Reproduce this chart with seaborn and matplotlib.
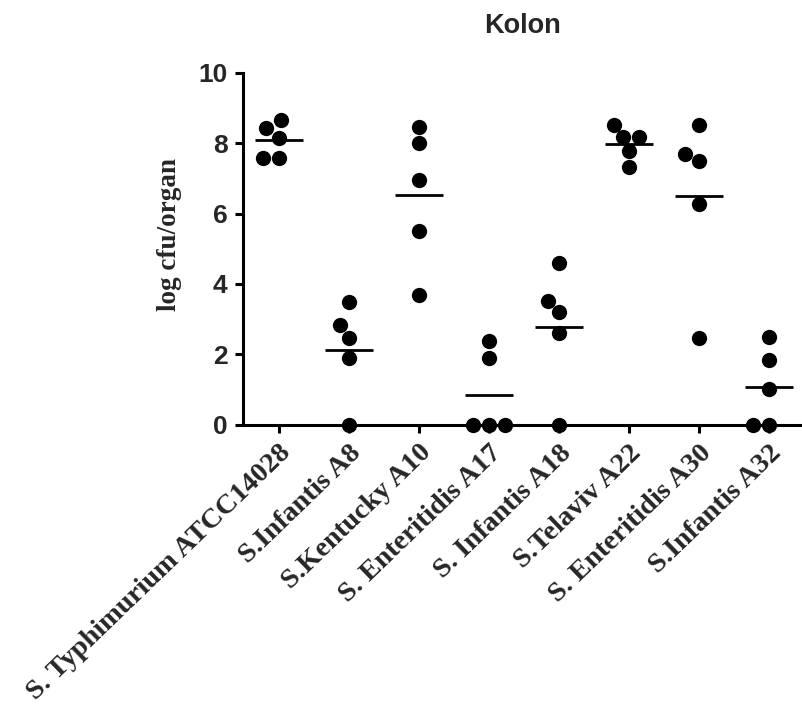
import numpy as np
import pandas as pd
import matplotlib
matplotlib.use('Agg')
import matplotlib.pyplot as plt
import seaborn as sns

# strains on the x axis
strains = ['S. Typhimurium ATCC14028', 'S.Infantis A8', 'S.Kentucky A10',
           'S. Enteritidis A17', 'S. Infantis A18', 'S.Telaviv A22',
           'S. Enteritidis A30', 'S.Infantis A32']

# log cfu/organ per mouse
typhimurium_14028 = [8.65, 8.16, 8.44, 7.59, 7.59]
infantis_a8 = [3.49, 2.83, 2.47, 1.89, 0.0]
kentucky_a10 = [8.47, 8.02, 6.96, 5.52, 3.68]
enteritidis_a17 = [2.38, 1.90, 0.0, 0.0, 0.0]
infantis_a18 = [4.61, 3.52, 3.20, 2.60, 0.0]
telaviv_a22 = [8.53, 8.17, 8.17, 7.77, 7.32]
enteritidis_a30 = [8.53, 7.70, 7.49, 6.26, 2.46]
infantis_a32 = [2.48, 1.85, 1.02, 0.0, 0.0]

yticks = [0, 2, 4, 6, 8, 10]

groups = [typhimurium_14028, infantis_a8, kentucky_a10, enteritidis_a17,
          infantis_a18, telaviv_a22, enteritidis_a30, infantis_a32]
df = pd.DataFrame({
    'strain': np.repeat(strains, [len(g) for g in groups]),
    'value': np.concatenate(groups),
})

sns.set_style('ticks')
plt.rcParams['font.family'] = ['Liberation Sans', 'DejaVu Sans']

fig = plt.figure(figsize=(8.02, 7.15), dpi=100)
ax = fig.add_axes([0.303, 0.406, 0.697, 0.492])

sns.swarmplot(data=df, x='strain', y='value', order=strains, color='black',
              size=11, ax=ax, zorder=3)
sns.pointplot(data=df, x='strain', y='value', order=strains, estimator='mean',
              errorbar=None, color='black', marker='_', markersize=34,
              markeredgewidth=2, linestyle='none', ax=ax)

# dots at 0 sit on the axis line
for c in ax.collections:
    c.set_clip_on(False)
for l in ax.lines:
    l.set_clip_on(False)

ax.set_ylim(0, 10)
ax.set_xlim(-0.51, 7.47)
ax.set_yticks(yticks)
ax.set_yticklabels([str(t) for t in yticks], fontsize=19, fontweight='bold')
ax.set_xticks(range(len(strains)))
ax.set_xticklabels(strains, rotation=44, ha='right', va='top', rotation_mode='anchor',
                   fontfamily='Liberation Serif', fontweight='bold', fontsize=20.5)
ax.tick_params(axis='both', length=6, width=2.2, pad=5, color='black')

ax.set_xlabel('')
ax.set_ylabel('log cfu/organ', fontfamily='Liberation Serif', fontweight='bold',
              fontsize=19.5)
ax.yaxis.set_label_coords(-0.11, 0.54)
ax.set_title('Kolon', fontsize=19.5, fontweight='bold', pad=29)

sns.despine(ax=ax)
for s in ['left', 'bottom']:
    ax.spines[s].set_linewidth(2.2)
    ax.spines[s].set_color('black')

fig.savefig('out.png', dpi=100)
